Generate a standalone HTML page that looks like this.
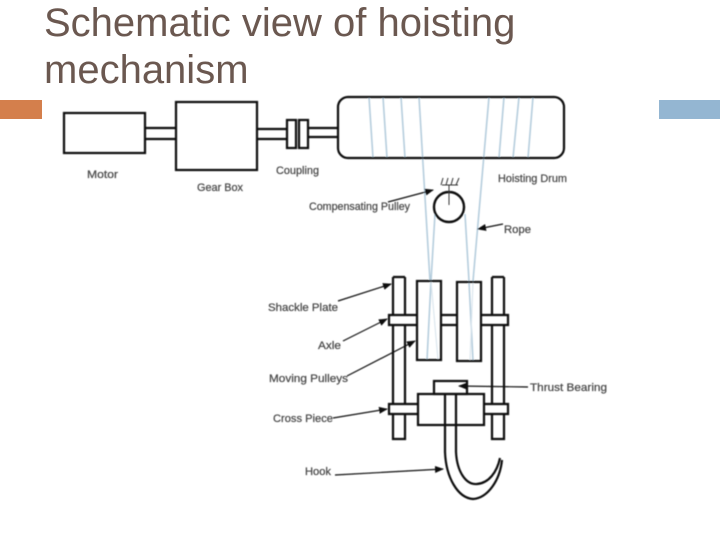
<!DOCTYPE html>
<html><head><meta charset="utf-8"><style>
html,body{margin:0;padding:0;background:#fff}
body{width:720px;height:540px;overflow:hidden;position:relative}
svg{position:absolute;left:0;top:0}
.t{font-family:"Liberation Sans",sans-serif;font-size:40px;fill:#6b5850}
.l{font-family:"Liberation Sans",sans-serif;font-size:11px;fill:#4a4a4a;stroke:#4a4a4a;stroke-width:0.25}
</style></head><body>
<svg width="720" height="540" viewBox="0 0 720 540">
<defs>
<filter id="b" x="-5%" y="-5%" width="110%" height="110%"><feGaussianBlur stdDeviation="0.4"/></filter>
<marker id="a" markerWidth="9" markerHeight="7" refX="8" refY="3.5" orient="auto" markerUnits="userSpaceOnUse"><path d="M0 0L9 3.5L0 7Z" fill="#111"/></marker>
</defs>
<rect x="0" y="100" width="42" height="19" fill="#d47f4c"/>
<rect x="659" y="100" width="61" height="19" fill="#94b6d2"/>
<text class="t" x="44" y="36">Schematic view of hoisting</text>
<text class="t" x="44" y="83">mechanism</text>
<g filter="url(#b)">
<g stroke="#b5cddd" stroke-width="1.6" fill="none">
<path d="M369 97L373 158M383 97L387 158M401 97L405 158M419 97L430 281"/>
<path d="M489 97L473 281M504 97L499 158M519 97L513 158M533 97L528 158"/>
<path d="M435 214L431 281M465 214L469 281"/>
<path d="M431 281L427 360M469 282L473 361"/>
</g>
<g stroke="#dbe6ee" stroke-width="1.2" fill="none">
<path d="M431 281L438 360M473 282L470 361"/>
</g>
<g fill="none" stroke="#111" stroke-width="2.2">
<rect x="64" y="113" width="81" height="40"/>
<rect x="176" y="102" width="81" height="68"/>
<path d="M145 128H176M145 139H176M257 129H287M257 139H287M308 128H338M308 137H338"/>
<rect x="287" y="120" width="9" height="28"/>
<rect x="299" y="120" width="9" height="28"/>
<rect x="338" y="97" width="226" height="61" rx="10"/>
<circle cx="449" cy="207" r="15" stroke-width="2.4"/>
<path d="M393 277H405M393 277V315M405 277V315M393 325V404M405 325V404M393 414V439H405V414"/>
<path d="M492 277H504M492 277V315M504 277V315M492 325V404M504 325V404M492 414V439H504V414"/>
<rect x="417" y="281" width="24" height="79"/>
<rect x="457" y="282" width="24" height="79"/>
<path d="M417 315H389V325H417M441 315H457M441 325H457M481 315H508V325H481"/>
<path d="M418 404H389V414H418M484 404H508V414H484"/>
<rect x="418" y="394" width="66" height="31"/>
<rect x="434" y="381" width="33" height="13"/>
<path d="M445 394V452C446 478 458 498 473 499C488 498 500 480 502 460"/>
<path d="M456 394V452C457 472 466 485 477 484C489 483 497 472 500 458"/>
</g>
<g fill="none" stroke="#333" stroke-width="1">
<path d="M442 185H458M449 185V205M441 185L443 178M446 185L448 178M451 185L453 178M456 185L459 178"/>
</g>
<g fill="none" stroke="#111" stroke-width="1.2" marker-end="url(#a)">
<path d="M388 202L433 190"/>
<path d="M503 224L478 229"/>
<path d="M338 301L391 284"/>
<path d="M343 341L387 319"/>
<path d="M347 376L415 341"/>
<path d="M528 387L459 386"/>
<path d="M333 418L387 409"/>
<path d="M335 475L443 469"/>
</g>
<text class="l" x="87" y="178" textLength="31" lengthAdjust="spacingAndGlyphs">Motor</text>
<text class="l" x="197" y="191" textLength="46" lengthAdjust="spacingAndGlyphs">Gear Box</text>
<text class="l" x="276" y="174" textLength="43" lengthAdjust="spacingAndGlyphs">Coupling</text>
<text class="l" x="498" y="182" textLength="69" lengthAdjust="spacingAndGlyphs">Hoisting Drum</text>
<text class="l" x="309" y="210" textLength="101" lengthAdjust="spacingAndGlyphs">Compensating Pulley</text>
<text class="l" x="504" y="233" textLength="27" lengthAdjust="spacingAndGlyphs">Rope</text>
<text class="l" x="268" y="311" textLength="70" lengthAdjust="spacingAndGlyphs">Shackle Plate</text>
<text class="l" x="318" y="349" textLength="23" lengthAdjust="spacingAndGlyphs">Axle</text>
<text class="l" x="269" y="382" textLength="79" lengthAdjust="spacingAndGlyphs">Moving Pulleys</text>
<text class="l" x="530" y="391" textLength="77" lengthAdjust="spacingAndGlyphs">Thrust Bearing</text>
<text class="l" x="273" y="422" textLength="60" lengthAdjust="spacingAndGlyphs">Cross Piece</text>
<text class="l" x="305" y="475" textLength="26" lengthAdjust="spacingAndGlyphs">Hook</text>
</g>
</svg>
</body></html>
